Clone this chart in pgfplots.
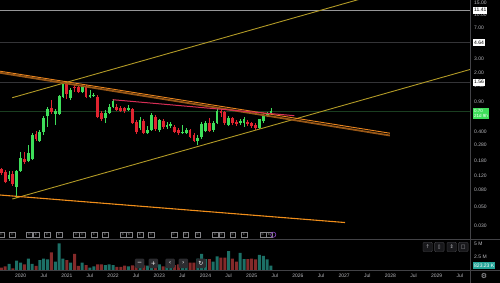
\documentclass[border=0pt]{standalone}
\usepackage{pgfplots}
\pgfplotsset{compat=1.18}
\usepackage{fontspec}
\setmainfont{Liberation Sans}
\newfontfamily\dejavu{DejaVu Sans}
\definecolor{cgreen}{RGB}{62,222,90}
\definecolor{cred}{RGB}{224,36,48}
\definecolor{vteal}{RGB}{28,112,102}
\definecolor{vred}{RGB}{132,42,42}
\definecolor{tickgray}{RGB}{185,185,190}
\definecolor{sepgray}{RGB}{66,66,70}
\definecolor{gold}{RGB}{178,154,38}
\definecolor{orangeA}{RGB}{232,132,30}
\definecolor{orangeB}{RGB}{150,86,22}
\definecolor{orangeC}{RGB}{240,142,26}
\definecolor{pinkred}{RGB}{214,46,86}
\definecolor{hlA}{RGB}{150,150,152}
\definecolor{hlB}{RGB}{52,52,55}
\definecolor{hlC}{RGB}{26,62,32}
\definecolor{boxteal}{RGB}{38,166,154}
\definecolor{btn}{RGB}{44,44,48}
\definecolor{btnB}{RGB}{24,24,27}
\definecolor{purp}{RGB}{140,70,200}
\definecolor{evgray}{RGB}{130,130,134}
\newcommand{\sfive}{\fontsize{5}{6}\selectfont}
\begin{document}
\begin{tikzpicture}
\useasboundingbox (0,0) rectangle (500pt,283pt);
\clip (0,0) rectangle (500pt,283pt);
\fill[black] (0,0) rectangle (500pt,283pt);
% ---------------- price pane ----------------
\begin{axis}[
  at={(0pt,44pt)}, anchor=south west, scale only axis,
  width=470.5pt, height=239pt,
  xmin=-5.348, xmax=116.8,
  ymode=log, ymin=0.02077, ymax=15.04,
  axis line style={draw=none}, tick style={draw=none},
  xtick=\empty, yminorticks=false,
  ytick={10,7,3,2,1.4,0.9,0.4,0.28,0.18,0.12,0.08,0.05,0.03},
  yticklabels={10.00,7.00,3.00,2.00,1.40,0.90,0.400,0.280,0.180,0.120,0.080,0.050,0.030},
  yticklabel pos=right,
  yticklabel style={font=\sfive, text=tickgray, anchor=west, inner sep=0pt, xshift=3.5pt},
  unbounded coords=jump,
]
% horizontal levels
\addplot[hlA, line width=0.9pt] coordinates {(-6,11.41) (118,11.41)};
\addplot[hlB, line width=1pt] coordinates {(-6,4.64) (118,4.64)};
\addplot[hlB, line width=1pt] coordinates {(-6,1.56) (118,1.56)};
\addplot[hlC, line width=0.8pt] coordinates {(-6,0.70) (118,0.70)};
% green wicks (low, high)
\addplot[cgreen, line width=0.8pt] coordinates {
(-3,0.1027)(-3,0.135)(-3,nan) (-1,0.0648)(-1,0.139)(-1,nan) (0,0.132)(0,0.226)(0,nan)
(2,0.172)(2,0.277)(2,nan) (3,0.183)(3,0.385)(3,nan) (5,0.301)(5,0.418)(5,nan)
(6,0.365)(6,0.615)(6,nan) (7,0.458)(7,0.789)(7,nan) (9,0.483)(9,0.740)(9,nan)
(10,0.633)(10,1.083)(10,nan) (11,1.010)(11,1.570)(11,nan) (13,0.956)(13,1.331)(13,nan)
(16,1.160)(16,1.446)(16,nan) (18,1.002)(18,1.260)(18,nan) (19,1.039)(19,1.160)(19,nan)
(22,0.507)(22,0.726)(22,nan) (23,0.650)(23,0.857)(23,nan) (24,0.767)(24,0.975)(24,nan)
(28,0.712)(28,0.833)(28,nan) (31,0.418)(31,0.599)(31,nan) (33,0.375)(33,0.467)(33,nan)
(34,0.407)(34,0.668)(34,nan) (36,0.396)(36,0.567)(36,nan) (38,0.430)(38,0.522)(38,nan)
(39,0.442)(39,0.522)(39,nan) (42,0.375)(42,0.480)(42,nan) (43,0.375)(43,0.442)(43,nan)
(46,0.277)(46,0.365)(46,nan) (47,0.331)(47,0.522)(47,nan) (48,0.391)(48,0.537)(48,nan)
(50,0.401)(50,0.529)(50,nan) (51,0.494)(51,0.757)(51,nan) (54,0.461)(54,0.615)(54,nan)
(57,0.480)(57,0.567)(57,nan) (58,0.458)(58,0.604)(58,nan) (62,0.436)(62,0.574)(62,nan)
(63,0.514)(63,0.650)(63,nan) (64,0.599)(64,0.690)(64,nan) (65,0.650)(65,0.774)(65,nan)
};
% red wicks (low, high)
\addplot[cred, line width=0.8pt] coordinates {
(-5,0.121)(-5,0.147)(-5,nan) (-4,0.0964)(-4,0.139)(-4,nan) (-2,0.0902)(-2,0.135)(-2,nan)
(1,0.165)(1,0.228)(1,nan) (4,0.309)(4,0.407)(4,nan) (8,0.650)(8,0.956)(8,nan)
(12,0.990)(12,1.614)(12,nan) (14,1.202)(14,1.486)(14,nan) (15,1.160)(15,1.406)(15,nan)
(17,1.002)(17,1.446)(17,nan) (20,0.578)(20,1.083)(20,nan) (21,0.537)(21,0.706)(21,nan)
(25,0.712)(25,0.857)(25,nan) (26,0.687)(26,0.810)(26,nan) (27,0.668)(27,0.789)(27,nan)
(29,0.494)(29,0.767)(29,nan) (30,0.375)(30,0.551)(30,nan) (32,0.370)(32,0.567)(32,nan)
(35,0.407)(35,0.633)(35,nan) (37,0.430)(37,0.567)(37,nan) (40,0.382)(40,0.480)(40,nan)
(41,0.365)(41,0.442)(41,nan) (44,0.336)(44,0.436)(44,nan) (45,0.301)(45,0.385)(45,nan)
(49,0.391)(49,0.582)(49,nan) (52,0.599)(52,0.726)(52,nan) (53,0.480)(53,0.706)(53,nan)
(55,0.480)(55,0.599)(55,nan) (56,0.467)(56,0.551)(56,nan) (59,0.467)(59,0.551)(59,nan)
(60,0.442)(60,0.522)(60,nan) (61,0.424)(61,0.507)(61,nan)
};
% green bodies (open, close)
\addplot[cgreen, line width=2.8pt, line cap=butt] coordinates {
(-3,0.1085)(-3,0.121)(-3,nan) (-1,0.0878)(-1,0.135)(-1,nan) (0,0.136)(0,0.192)(0,nan)
(2,0.180)(2,0.220)(2,nan) (3,0.188)(3,0.365)(3,nan) (5,0.309)(5,0.393)(5,nan)
(6,0.399)(6,0.582)(6,nan) (7,0.621)(7,0.746)(7,nan) (9,0.655)(9,0.700)(9,nan)
(10,0.650)(10,1.060)(10,nan) (11,1.047)(11,1.515)(11,nan) (13,1.010)(13,1.260)(13,nan)
(16,1.202)(16,1.379)(16,nan) (18,1.047)(18,1.098)(18,nan) (19,1.068)(19,1.098)(19,nan)
(22,0.578)(22,0.674)(22,nan) (23,0.674)(23,0.795)(23,nan) (24,0.799)(24,0.943)(24,nan)
(28,0.726)(28,0.767)(28,nan) (31,0.439)(31,0.544)(31,nan) (33,0.382)(33,0.418)(33,nan)
(34,0.418)(34,0.633)(34,nan) (36,0.415)(36,0.544)(36,nan) (38,0.458)(38,0.480)(38,nan)
(39,0.465)(39,0.487)(39,nan) (42,0.382)(42,0.401)(42,nan) (43,0.389)(43,0.418)(43,nan)
(46,0.313)(46,0.340)(46,nan) (47,0.345)(47,0.494)(47,nan) (48,0.407)(48,0.514)(48,nan)
(50,0.418)(50,0.514)(50,nan) (51,0.514)(51,0.697)(51,nan) (54,0.480)(54,0.582)(54,nan)
(57,0.510)(57,0.529)(57,nan) (58,0.514)(58,0.559)(58,nan) (62,0.448)(62,0.559)(62,nan)
(63,0.529)(63,0.624)(63,nan) (64,0.615)(64,0.668)(64,nan) (65,0.659)(65,0.700)(65,nan)
};
% red bodies (open, close)
\addplot[cred, line width=2.8pt, line cap=butt] coordinates {
(-5,0.142)(-5,0.127)(-5,nan) (-4,0.133)(-4,0.0991)(-4,nan) (-2,0.1235)(-2,0.0938)(-2,nan)
(1,0.190)(1,0.174)(1,nan) (4,0.375)(4,0.327)(4,nan) (8,0.767)(8,0.690)(8,nan)
(12,1.540)(12,1.120)(12,nan) (14,1.379)(14,1.320)(14,nan) (15,1.357)(15,1.202)(15,nan)
(17,1.379)(17,1.047)(17,nan) (20,1.047)(20,0.604)(20,nan) (21,0.663)(21,0.567)(21,nan)
(25,0.782)(25,0.726)(25,nan) (26,0.761)(26,0.712)(26,nan) (27,0.757)(27,0.716)(27,nan)
(29,0.740)(29,0.503)(29,nan) (30,0.526)(30,0.396)(30,nan) (32,0.537)(32,0.382)(32,nan)
(35,0.604)(35,0.430)(35,nan) (37,0.541)(37,0.455)(37,nan) (40,0.458)(40,0.399)(40,nan)
(41,0.418)(41,0.382)(41,nan) (44,0.418)(44,0.348)(44,nan) (45,0.365)(45,0.313)(45,nan)
(49,0.507)(49,0.407)(49,nan) (52,0.697)(52,0.674)(52,nan) (53,0.687)(53,0.503)(53,nan)
(55,0.578)(55,0.503)(55,nan) (56,0.526)(56,0.490)(56,nan) (59,0.526)(59,0.487)(59,nan)
(60,0.503)(60,0.461)(60,nan) (61,0.480)(61,0.439)(61,nan)
};
% trend lines
\addplot[gold, line width=0.9pt] coordinates {(-2.155,1.019) (116.8,36.5)};
\addplot[gold, line width=0.9pt] coordinates {(-2.155,0.0625) (116.85,2.228)};
\addplot[orangeB, line width=1.8pt] coordinates {(-5.348,2.024) (95.86,0.3597)};
\addplot[orangeA, line width=0.9pt] coordinates {(-5.348,2.115) (95.86,0.3833)};
\addplot[pinkred, line width=1pt] coordinates {(23.91,0.964) (71.05,0.621)};
\addplot[orangeC, line width=1.1pt] coordinates {(-5.348,0.0698) (84.22,0.0327)};
% event markers
\addplot[only marks, mark=square*, mark size=2.9pt,
  mark options={fill=black, draw=evgray, line width=0.5pt, rounded corners=0.6pt},
  nodes near coords={E},
  nodes near coords style={anchor=center, inner sep=0pt, font=\fontsize{3.5}{4}\selectfont, text=evgray}]
  coordinates {(-4.96,0.02339)(-2.1,0.02339)(2.3,0.02339)(4.0,0.02339)(6.93,0.02339)(9.97,0.02339)
  (14.5,0.02339)(16.1,0.02339)(19.05,0.02339)(21.96,0.02339)(26.6,0.02339)(28.2,0.02339)
  (31.0,0.02339)(34.0,0.02339)(39.8,0.02339)(42.9,0.02339)(46.0,0.02339)(50.6,0.02339)
  (52.2,0.02339)(55.1,0.02339)(58.0,0.02339)(62.9,0.02339)(64.5,0.02339)};
\addplot[only marks, mark=o, mark size=2.6pt, mark options={draw=purp, line width=0.6pt}]
  coordinates {(65.6,0.02339)};
\coordinate (q1) at (axis cs:116.8,11.41);
\coordinate (q2) at (axis cs:116.8,4.64);
\coordinate (q3) at (axis cs:116.8,1.56);
\coordinate (q4) at (axis cs:116.8,0.70);
\end{axis}
% ---------------- volume pane ----------------
\begin{axis}[
  at={(0pt,13pt)}, anchor=south west, scale only axis,
  width=470.5pt, height=31pt,
  xmin=-5.348, xmax=116.8, ymin=0, ymax=5.962,
  axis line style={draw=none}, tick style={draw=none},
  xtick={0,6,...,114},
  xticklabels={2020,Jul,2021,Jul,2022,Jul,2023,Jul,2024,Jul,2025,Jul,2026,Jul,2027,Jul,2028,Jul,2029,Jul},
  xticklabel style={font=\sfive, text=tickgray, anchor=north, inner sep=0pt, yshift=-3.6pt},
  ytick={2.5,5}, yticklabels={2.5 M,5 M}, yticklabel pos=right,
  yticklabel style={font=\sfive, text=tickgray, anchor=west, inner sep=0pt, xshift=3.5pt},
]
\addplot[ybar, bar width=3pt, bar shift=0pt, fill=vteal, draw=none] coordinates {
(-3,1.2)(-1,1.8)(0,1.4)(2,2.2)(3,1.2)(5,1.9)(6,2.2)(7,2.05)(9,1.6)(10,5.1)(11,2.2)(13,1.4)
(16,1.4)(18,0.45)(19,0.7)(22,0.96)(23,1.1)(24,0.96)(28,0.7)(31,0.7)(33,0.83)(34,0.64)(36,1.1)
(38,0.58)(39,0.83)(42,1.3)(43,0.83)(46,2.2)(47,3.1)(48,2.1)(50,1.6)(51,2.6)(54,3.65)(57,3.3)
(58,2.1)(62,2.9)(63,2.7)(64,2.05)(65,0.823)};
\addplot[ybar, bar width=3pt, bar shift=0pt, fill=vred, draw=none] coordinates {
(-5,0.45)(-4,0.7)(-2,0.3)(1,1.1)(4,0.8)(8,3.4)(12,1.9)(14,3.1)(15,0.77)(17,0.96)(20,1.1)(21,1.1)
(25,0.58)(26,0.58)(27,0.83)(29,0.9)(30,0.8)(32,0.9)(35,0.96)(37,0.7)(40,0.96)(41,1.1)(44,1.4)
(45,1.4)(49,2.1)(52,2.4)(53,2.4)(55,2.2)(56,1.6)(59,2.1)(60,2.2)(61,2.05)};
\coordinate (v1) at (axis cs:116.8,0.823);
\end{axis}
% ---------------- separators ----------------
\draw[sepgray, line width=0.7pt] (0,44pt) -- (500pt,44pt);
\draw[sepgray, line width=0.6pt] (0,13pt) -- (500pt,13pt);
\draw[sepgray, line width=0.6pt] (470.5pt,0) -- (470.5pt,283pt);
% ---------------- price labels ----------------
\node[text=tickgray, font=\sfive, inner sep=0pt, anchor=west] at (474pt,279.8pt) {15.00};
\node[fill=white, text=black, font=\sfive, inner xsep=1pt, inner ysep=0pt, minimum height=7pt, anchor=west] at ([xshift=2.5pt]q1) {11.41};
\node[fill=white, text=black, font=\sfive, inner xsep=1pt, inner ysep=0pt, minimum height=7pt, anchor=west] at ([xshift=2.5pt]q2) {4.64};
\node[fill=white, text=black, font=\sfive, inner xsep=1pt, inner ysep=0pt, minimum height=7pt, anchor=west] at ([xshift=2.5pt]q3) {1.56};
\node[fill=cgreen, text=white, font=\fontsize{4.5}{5.6}\selectfont, inner xsep=0.8pt, inner ysep=1pt, align=left, anchor=north west] at ([xshift=2.5pt,yshift=3.3pt]q4) {0.70\\21d 9h};
\node[fill=boxteal, text=white, font=\sfive, inner xsep=1pt, inner ysep=0pt, minimum height=7.5pt, anchor=west] at ([xshift=2.5pt]v1) {823.23 K};
% ---------------- buttons ----------------
\foreach \x/\s in {139.7/−,153.3/+,170/‹,183.3/›,201/↻}{
  \node[fill=btn, rounded corners=1.2pt, minimum width=9.5pt, minimum height=9.5pt, inner sep=0pt, text=white, font=\dejavu\fontsize{6}{6}\selectfont] at (\x pt,19.7pt) {\s};
}
\foreach \x/\s in {427.7/↑,439.3/▯,451.7/⇕,463.3/□}{
  \node[fill=btnB, draw=sepgray, rounded corners=1.2pt, minimum width=9.5pt, minimum height=9.5pt, inner sep=0pt, text=tickgray, font=\dejavu\fontsize{5}{5}\selectfont] at (\x pt,36pt) {\s};
}
\node[text=tickgray, font=\dejavu\fontsize{7}{7}\selectfont, inner sep=0pt] at (484pt,7pt) {⚙};
\end{tikzpicture}
\end{document}
